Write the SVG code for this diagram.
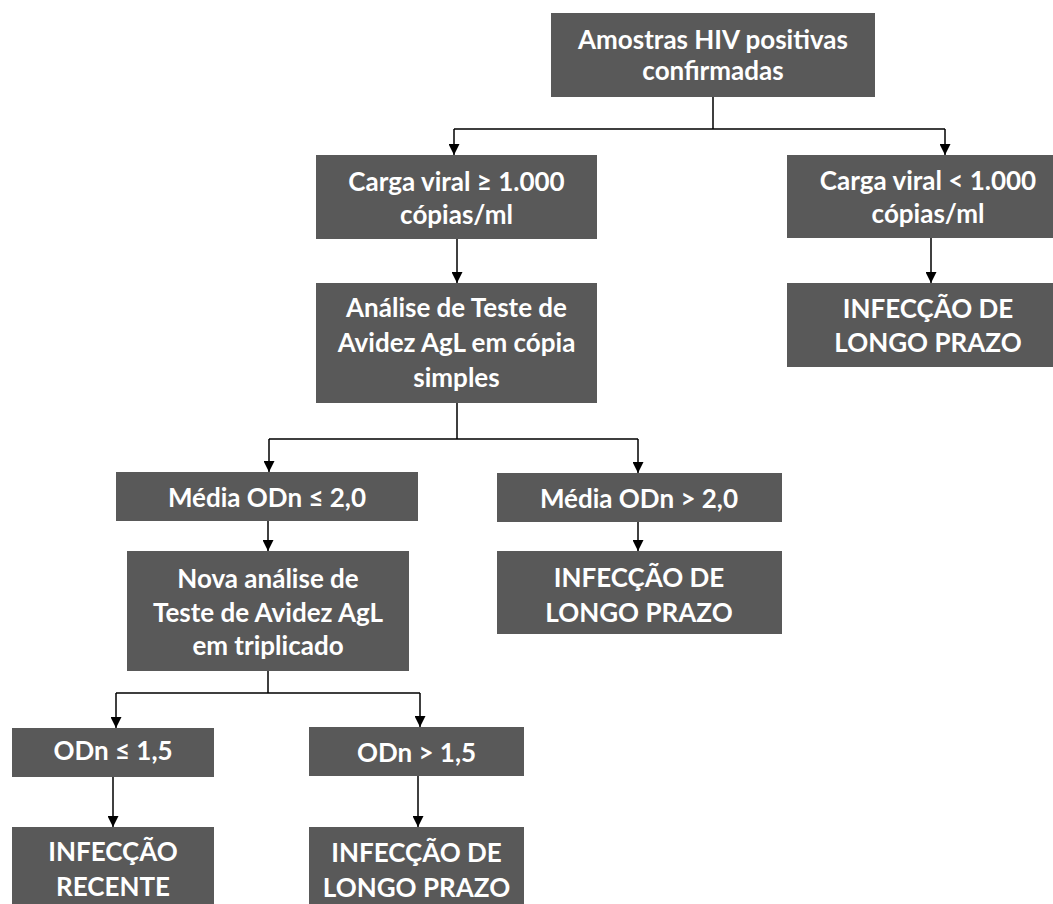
<svg xmlns="http://www.w3.org/2000/svg" width="1053" height="904" viewBox="0 0 1053 904">
<defs>
<style>
.box{fill:#595959;}
.t{font-family:Lato,"Open Sans","Liberation Sans",sans-serif;font-weight:700;font-size:26px;fill:#ffffff;text-anchor:middle;}
.c{fill:none;stroke:#000000;stroke-width:1.5;}
</style>
<marker id="ah" markerUnits="userSpaceOnUse" markerWidth="11" markerHeight="11" refX="10" refY="5" orient="auto" viewBox="0 0 10 10">
<path d="M0,0 L10,5 L0,10 z" fill="#000000"/>
</marker>
</defs>
<rect width="1053" height="904" fill="#ffffff"/>
<g id="connectors">
<path class="c" d="M713,97 V129 M454,129 H945"/>
<path class="c" d="M454,129 V155" marker-end="url(#ah)"/>
<path class="c" d="M945,129 V155" marker-end="url(#ah)"/>
<path class="c" d="M457,239 V283" marker-end="url(#ah)"/>
<path class="c" d="M931,238 V283" marker-end="url(#ah)"/>
<path class="c" d="M457,403 V439 M269,439 H638"/>
<path class="c" d="M269,439 V472" marker-end="url(#ah)"/>
<path class="c" d="M638,439 V473" marker-end="url(#ah)"/>
<path class="c" d="M268,521 V551" marker-end="url(#ah)"/>
<path class="c" d="M638,522 V551" marker-end="url(#ah)"/>
<path class="c" d="M268,671 V693 M116,693 H420"/>
<path class="c" d="M116,693 V728" marker-end="url(#ah)"/>
<path class="c" d="M420,693 V727" marker-end="url(#ah)"/>
<path class="c" d="M113,777 V827" marker-end="url(#ah)"/>
<path class="c" d="M418,776 V827" marker-end="url(#ah)"/>
</g>
<g id="n1">
<rect class="box" x="551" y="13" width="324" height="84"/>
<text class="t" x="713" y="49">Amostras HIV positivas</text>
<text class="t" x="713" y="80">confirmadas</text>
</g>
<g id="n2">
<rect class="box" x="316" y="155" width="281" height="84"/>
<text class="t" x="456.5" y="191">Carga viral ≥ 1.000</text>
<text class="t" x="456.5" y="224">cópias/ml</text>
</g>
<g id="n3">
<rect class="box" x="787" y="155" width="282" height="83"/>
<text class="t" x="928" y="190">Carga viral &lt; 1.000</text>
<text class="t" x="928" y="223">cópias/ml</text>
</g>
<g id="n4">
<rect class="box" x="316" y="283" width="281" height="120"/>
<text class="t" x="456.5" y="317">Análise de Teste de</text>
<text class="t" x="456.5" y="352">Avidez AgL em cópia</text>
<text class="t" x="456.5" y="387">simples</text>
</g>
<g id="n5">
<rect class="box" x="787" y="283" width="282" height="84"/>
<text class="t" x="928" y="318">INFECÇÃO DE</text>
<text class="t" x="928" y="352">LONGO PRAZO</text>
</g>
<g id="n6">
<rect class="box" x="116" y="472" width="302" height="49"/>
<text class="t" x="267" y="507">Média ODn ≤ 2,0</text>
</g>
<g id="n7">
<rect class="box" x="497" y="473" width="285" height="49"/>
<text class="t" x="639" y="508">Média ODn &gt; 2,0</text>
</g>
<g id="n8">
<rect class="box" x="127" y="551" width="282" height="120"/>
<text class="t" x="268" y="588">Nova análise de</text>
<text class="t" x="268" y="622">Teste de Avidez AgL</text>
<text class="t" x="268" y="655">em triplicado</text>
</g>
<g id="n9">
<rect class="box" x="497" y="551" width="285" height="83"/>
<text class="t" x="639" y="587">INFECÇÃO DE</text>
<text class="t" x="639" y="622">LONGO PRAZO</text>
</g>
<g id="n10">
<rect class="box" x="12" y="728" width="202" height="49"/>
<text class="t" x="113" y="760">ODn ≤ 1,5</text>
</g>
<g id="n11">
<rect class="box" x="309" y="727" width="215" height="49"/>
<text class="t" x="416.5" y="762">ODn &gt; 1,5</text>
</g>
<g id="n12">
<rect class="box" x="12" y="827" width="202" height="80"/>
<text class="t" x="113" y="861">INFECÇÃO</text>
<text class="t" x="113" y="896">RECENTE</text>
</g>
<g id="n13">
<rect class="box" x="309" y="827" width="215" height="80"/>
<text class="t" x="416.5" y="862">INFECÇÃO DE</text>
<text class="t" x="416.5" y="897">LONGO PRAZO</text>
</g>
</svg>
